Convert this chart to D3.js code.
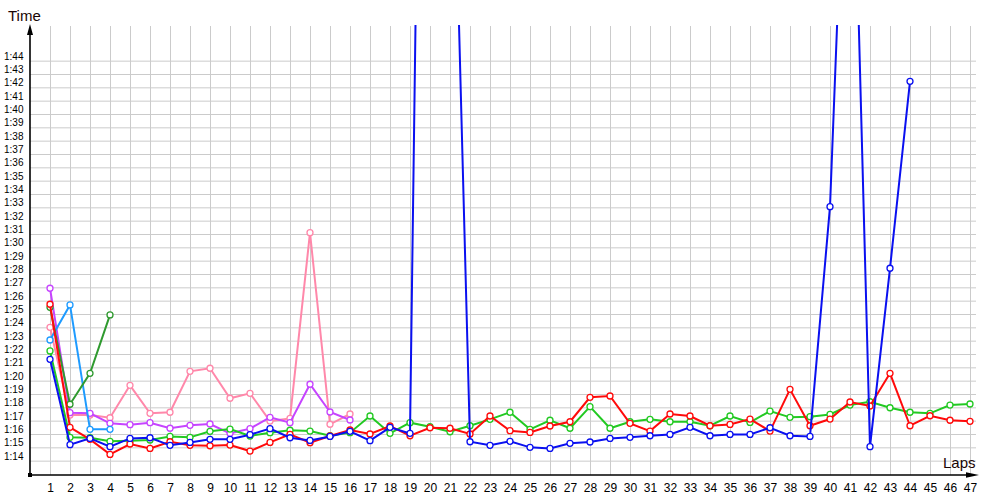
<!DOCTYPE html>
<html>
<head>
<meta charset="utf-8">
<script src="https://cdn.jsdelivr.net/npm/d3@7/dist/d3.min.js"></script>
<style>
  html, body { margin: 0; padding: 0; background: #fff; }
  svg { display: block; }
</style>
</head>
<body>
<svg id="chart" width="1000" height="500"></svg>
<script>
// ---- data (lap times in seconds) ----
const laps = [1,2,3,4,5,6,7,8,9,10,11,12,13,14,15,16,17,18,19,20,21,22,23,24,25,26,27,28,29,30,31,32,33,34,35,36,37,38,39,40,41,42,43,44,45,46,47];

const yTicks = [74,75,76,77,78,79,80,81,82,83,84,85,86,87,88,89,90,91,92,93,94,95,96,97,98,99,100,101,102,103,104];
const yTickLabels = ["1:14","1:15","1:16","1:17","1:18","1:19","1:20","1:21","1:22","1:23","1:24","1:25","1:26","1:27","1:28","1:29","1:30","1:31","1:32","1:33","1:34","1:35","1:36","1:37","1:38","1:39","1:40","1:41","1:42","1:43","1:44"];

const redTimes = [85.73,76.5,75.6,74.47,75.25,74.92,75.42,75.15,75.12,75.17,74.72,75.37,75.97,75.35,75.85,76.3,76.0,76.6,75.87,76.47,76.43,76.0,77.35,76.25,76.12,76.6,76.92,78.75,78.85,76.8,76.22,77.5,77.35,76.62,76.72,77.12,76.22,79.35,76.62,77.12,78.4,78.1,80.55,76.62,77.37,77.03,76.95];

const greenTimes = [82.23,75.75,75.72,75.45,75.5,75.55,75.82,75.75,76.2,76.37,75.85,76.1,76.28,76.22,75.87,76.1,77.35,76.05,76.85,76.55,76.17,76.62,77.1,77.63,76.35,77.03,76.43,78.05,76.43,76.92,77.1,76.92,76.92,76.62,77.35,76.87,77.72,77.25,77.3,77.47,78.17,78.42,77.97,77.63,77.55,78.17,78.25];

const blueTimes = [81.6,75.2,75.67,75.05,75.67,75.72,75.15,75.37,75.6,75.6,75.95,76.4,75.72,75.52,75.82,76.2,75.5,76.5,76.05,187.5,132.3,75.42,75.15,75.45,75.0,74.92,75.3,75.4,75.67,75.75,75.87,75.97,76.5,75.87,75.97,75.97,76.47,75.87,75.82,93.05,131.5,75.05,88.43,102.45];

const purpleTimes = [86.93,77.6,77.55,76.8,76.7,76.85,76.43,76.65,76.75,76.05,76.4,77.25,76.85,79.73,77.65,77.05];

const pinkTimes = [84.0,77.42,77.42,77.22,79.65,77.55,77.63,80.7,80.93,78.68,79.05,76.97,77.17,91.1,76.73,77.5];

const lightBlueTimes = [83.05,85.68,76.35,76.35];

const darkGreenTimes = [85.5,78.23,80.55,84.93];

const seriesList = [
  { name: "pink",      color: "#ff88aa", values: pinkTimes },
  { name: "purple",    color: "#c644ff", values: purpleTimes },
  { name: "lightblue", color: "#1e9bff", values: lightBlueTimes },
  { name: "darkgreen", color: "#2f9a2f", values: darkGreenTimes },
  { name: "green",     color: "#22c922", values: greenTimes },
  { name: "red",       color: "#ff0a0a", values: redTimes },
  { name: "blue",      color: "#0a10f0", values: blueTimes }
];

// ---- layout ----
const svg = d3.select("#chart");
const axisX0 = 30, axisY0 = 475, plotTop = 26, gridRight = 976;

const x = d3.scaleLinear().domain([0, 47]).range([30, 970]);
const y = d3.scaleLinear().domain([73, 104]).range([474, 60.667]);

// vertical grid + x labels
const gx = svg.append("g").attr("transform", `translate(0,${axisY0})`)
  .call(d3.axisBottom(x).tickValues(laps).tickSize(-(axisY0 - plotTop)).tickFormat(d => String(d)));
gx.select(".domain").remove();
gx.selectAll(".tick line").attr("stroke", "#cbcbcb").attr("stroke-width", 1);
gx.selectAll(".tick text")
  .attr("y", 17).attr("dy", 0)
  .attr("fill", "#000")
  .style("font-family", "'Liberation Sans', Arial, sans-serif")
  .style("font-size", "12px");

// horizontal grid + y labels
const gy = svg.append("g").attr("transform", `translate(${axisX0},0)`)
  .call(d3.axisLeft(y).tickValues(yTicks).tickSize(-(gridRight - axisX0)).tickFormat((d, i) => yTickLabels[i]));
gy.select(".domain").remove();
gy.selectAll(".tick line").attr("stroke", "#cbcbcb").attr("stroke-width", 1);
gy.selectAll(".tick text")
  .attr("x", -26).attr("dy", -1.5).attr("y", 0)
  .attr("text-anchor", "start")
  .attr("dominant-baseline", "auto")
  .attr("fill", "#000")
  .style("font-family", "'Liberation Sans', Arial, sans-serif")
  .style("font-size", "10px");

// axes lines + arrows
svg.append("line").attr("x1", axisX0).attr("x2", axisX0).attr("y1", 30).attr("y2", axisY0)
  .attr("stroke", "#000").attr("stroke-width", 1.6);
svg.append("path").attr("d", `M${axisX0},24 L${axisX0-3},35 L${axisX0+3},35 Z`).attr("fill", "#000");
svg.append("line").attr("x1", axisX0).attr("x2", 972).attr("y1", axisY0).attr("y2", axisY0)
  .attr("stroke", "#000").attr("stroke-width", 1.6);
svg.append("path").attr("d", `M979,${axisY0} L966,${axisY0-2.8} L966,${axisY0+2.8} Z`).attr("fill", "#000");
svg.append("rect").attr("x", axisX0 - 2).attr("y", axisY0 - 2).attr("width", 4).attr("height", 4).attr("fill", "#000");

// axis titles
svg.append("text").attr("x", 8).attr("y", 21).text("Time")
  .attr("fill", "#1a0505")
  .style("font-family", "'Liberation Sans', Arial, sans-serif").style("font-size", "15px");
svg.append("text").attr("x", 943).attr("y", 468).text("Laps")
  .attr("fill", "#1a0505")
  .style("font-family", "'Liberation Sans', Arial, sans-serif").style("font-size", "15px");

// clip
svg.append("defs").append("clipPath").attr("id", "plotclip")
  .append("rect").attr("x", axisX0).attr("y", 25).attr("width", 1000 - axisX0).attr("height", axisY0 - 25 + 10);

const plot = svg.append("g").attr("clip-path", "url(#plotclip)");
const line = d3.line().x((d, i) => x(laps[i])).y(d => y(d));

seriesList.forEach(s => {
  const g = plot.append("g");
  g.append("path").datum(s.values)
    .attr("d", line)
    .attr("fill", "none")
    .attr("stroke", s.color)
    .attr("stroke-width", 2)
    .attr("stroke-linejoin", "miter");
  g.selectAll("circle").data(s.values).enter().append("circle")
    .attr("cx", (d, i) => x(laps[i]))
    .attr("cy", d => y(d))
    .attr("r", 3)
    .attr("fill", "#fff")
    .attr("stroke", s.color)
    .attr("stroke-width", 1.3);
});
</script>
</body>
</html>
